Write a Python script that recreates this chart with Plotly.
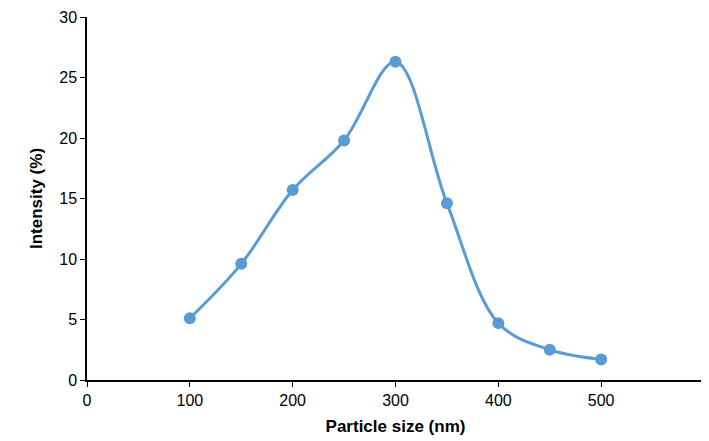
import plotly.graph_objects as go

BLUE = "#5B9BD5"

particle_size = [100, 150, 200, 250, 300, 350, 400, 450, 500]
intensity = [5.1, 9.6, 15.7, 19.8, 26.3, 14.6, 4.7, 2.5, 1.7]

fig = go.Figure()
fig.add_trace(
    go.Scatter(
        x=particle_size,
        y=intensity,
        mode="lines+markers",
        line=dict(color=BLUE, width=3, shape="spline", smoothing=1.0),
        marker=dict(size=12, color=BLUE),
        showlegend=False,
        cliponaxis=False,
    )
)

axis_font = dict(family="Liberation Sans, Arial", size=16, color="#000")
fig.update_layout(
    width=709,
    height=441,
    paper_bgcolor="white",
    plot_bgcolor="white",
    margin=dict(l=79, r=13, t=9, b=69),
    font=dict(family="Liberation Sans, Arial", color="#000"),
    xaxis=dict(
        range=[0, 600], dtick=100, showgrid=False, zeroline=False, automargin=False,
        showline=True, linecolor="#000", linewidth=1.5,
        ticks="outside", ticklen=5, tickcolor="#000", tickfont=axis_font,
        title=dict(text="<b>Particle size (nm)</b>", standoff=12,
                   font=dict(size=17, family="Liberation Sans, Arial")),
    ),
    yaxis=dict(
        range=[0, 30], dtick=5, showgrid=False, zeroline=False, automargin=False,
        showline=True, linecolor="#000", linewidth=1.5,
        ticks="outside", ticklen=5, tickcolor="#000", tickfont=axis_font,
        title=dict(text="<b>Intensity (%)</b>", standoff=12,
                   font=dict(size=17, family="Liberation Sans, Arial")),
    ),
)

fig.write_html("out.html")
